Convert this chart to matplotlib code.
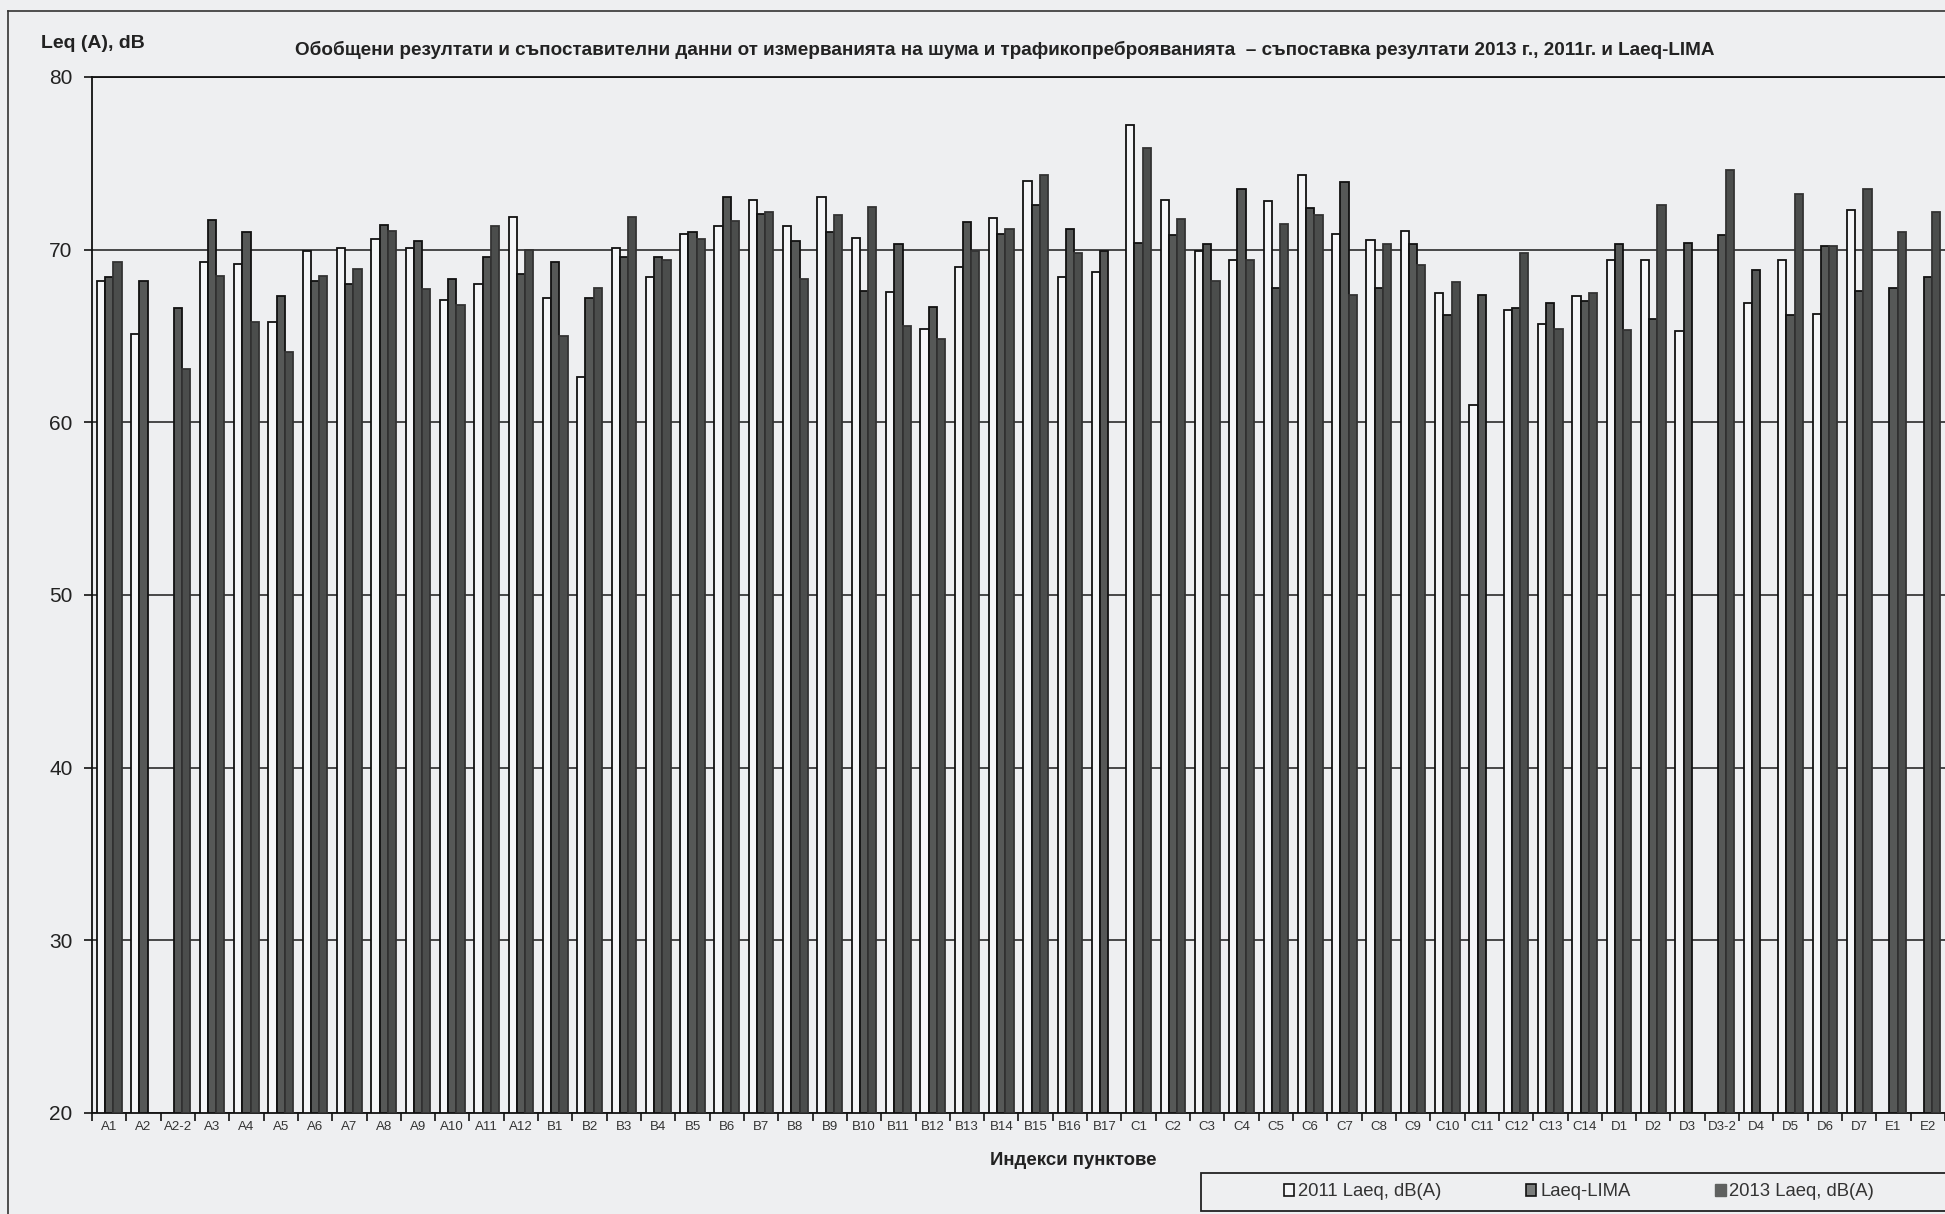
import matplotlib
matplotlib.use("Agg")
import matplotlib.pyplot as plt
import numpy as np
from matplotlib.patches import Patch, Rectangle

plt.rcParams["font.family"] = ["Liberation Sans", "DejaVu Sans"]

BG = "#eeeff1"
WHITE_BAR = "#f5f6f8"
LIMA_COLOR = "#565857"
Y2013_COLOR = "#4b4d4c"

nan = np.nan

categories = [
    "A1", "A2", "A2-2", "A3", "A4", "A5", "A6", "A7", "A8", "A9", "A10", "A11", "A12",
    "B1", "B2", "B3", "B4", "B5", "B6", "B7", "B8", "B9", "B10", "B11", "B12", "B13",
    "B14", "B15", "B16", "B17",
    "C1", "C2", "C3", "C4", "C5", "C6", "C7", "C8", "C9", "C10", "C11", "C12", "C13", "C14",
    "D1", "D2", "D3", "D3-2", "D4", "D5", "D6", "D7",
    "E1", "E2",
]

laeq_2011 = [
    68.2, 65.1, nan, 69.3, 69.15, 65.8, 69.9, 70.1, 70.6, 70.1, 67.1, 68.0, 71.9,
    67.2, 62.6, 70.1, 68.4, 70.9, 71.35, 72.9, 71.35, 73.05, 70.7, 67.55, 65.4, 69.0,
    71.85, 74.0, 68.4, 68.7,
    77.2, 72.9, 69.9, 69.4, 72.8, 74.35, 70.9, 70.55, 71.1, 67.5, 61.0, 66.5, 65.7, 67.3,
    69.4, 69.4, 65.3, nan, 66.9, 69.4, 66.3, 72.3,
    nan, nan,
]

laeq_lima = [
    68.4, 68.2, 66.6, 71.7, 71.0, 67.3, 68.2, 68.0, 71.4, 70.5, 68.3, 69.6, 68.6,
    69.3, 67.2, 69.6, 69.6, 71.0, 73.05, 72.05, 70.5, 71.0, 67.6, 70.3, 66.7, 71.6,
    70.9, 72.6, 71.2, 69.9,
    70.4, 70.85, 70.3, 73.5, 67.8, 72.4, 73.9, 67.8, 70.3, 66.2, 67.4, 66.6, 66.9, 67.0,
    70.3, 66.0, 70.4, 70.85, 68.8, 66.2, 70.2, 67.6,
    67.8, 68.4,
]

laeq_2013 = [
    69.3, nan, 63.1, 68.5, 65.8, 64.1, 68.5, 68.9, 71.1, 67.7, 66.8, 71.35, 70.0,
    65.0, 67.8, 71.9, 69.4, 70.6, 71.66, 72.2, 68.3, 72.0, 72.5, 65.6, 64.8, 69.9,
    71.2, 74.3, 69.8, nan,
    75.9, 71.8, 68.2, 69.4, 71.5, 72.0, 67.35, 70.3, 69.1, 68.15, nan, 69.8, 65.4, 67.5,
    65.35, 72.6, nan, 74.6, nan, 73.25, 70.2, 73.5,
    71.0, 72.2,
]

title = ("Обобщени резултати и съпоставителни данни от измерванията на шума и "
         "трафикопреброяванията  – съпоставка резултати 2013 г., 2011г. и Laeq-LIMA")

W, H = 1945, 1214
fig = plt.figure(figsize=(W / 100, H / 100), dpi=100, facecolor=BG)
ax = fig.add_axes([92 / W, 1 - 1113 / H, 1 - 92 / W, (1113 - 77) / H])
ax.set_facecolor(BG)

x = np.arange(len(categories))
bw = 0.24
bottom = 20
for vals, off, face, edge in [
    (laeq_2011, -bw, WHITE_BAR, "#111111"),
    (laeq_lima, 0.0, LIMA_COLOR, "#111111"),
    (laeq_2013, bw, Y2013_COLOR, "#333333"),
]:
    v = np.array(vals, dtype=float)
    ok = ~np.isnan(v)
    ax.bar(x[ok] + off, v[ok] - bottom, bw, bottom=bottom, color=face,
           edgecolor=edge, linewidth=1.3, zorder=3)

ax.set_ylim(20, 80)
ax.set_xlim(-0.5, (W - 92) / 34.4 - 0.5)
ax.set_yticks(np.arange(20, 81, 10))
ax.yaxis.grid(True, color="#1a1a1a", linewidth=1.1)
ax.set_axisbelow(True)

ax.set_xticks(x)
ax.set_xticklabels(categories, fontsize=9.5, color="#333333")
ax.set_xticks(np.arange(-0.5, len(categories), 1), minor=True)
ax.tick_params(axis="x", which="major", length=0, pad=6)
ax.tick_params(axis="x", which="minor", length=6, width=1.2, color="#111111")
ax.tick_params(axis="y", labelsize=15, length=6, width=1.2, pad=8, colors="#111111")
ax.tick_params(axis="y", labelcolor="#222222")

for side in ["left", "bottom", "top"]:
    ax.spines[side].set_linewidth(1.3)
    ax.spines[side].set_color("#111111")
ax.spines["right"].set_visible(False)

ax.set_xlabel("Индекси пунктове", fontsize=13.4, fontweight="bold", color="#222222")
ax.xaxis.set_label_coords((1073 - 92) / (W - 92), -0.038)

fig.text(41 / W, 1 - 43 / H, "Leq (A), dB", fontsize=14, fontweight="bold",
         color="#222222", va="center", ha="left")
fig.text(1005 / W, 1 - 50 / H, title, fontsize=13.6, fontweight="bold",
         color="#222222", va="center", ha="center")

# outer frame of the scanned chart
fig.add_artist(plt.Line2D([8 / W, 8 / W], [0, 1 - 11 / H], transform=fig.transFigure,
                          color="#333333", linewidth=1.2))
fig.add_artist(plt.Line2D([8 / W, 1], [1 - 11 / H, 1 - 11 / H], transform=fig.transFigure,
                          color="#333333", linewidth=1.2))

# legend box (runs off the right edge like the scan)
fig.add_artist(Rectangle((1201 / W, 1 - 1211 / H), 800 / W, 38 / H,
                         transform=fig.transFigure, facecolor=BG,
                         edgecolor="#222222", linewidth=1.3))
handles = [
    Patch(facecolor=WHITE_BAR, edgecolor="#111111", linewidth=1.2, label="2011 Laeq, dB(A)"),
    Patch(facecolor="#7a7c7b", edgecolor="#111111", linewidth=1.2, label="Laeq-LIMA"),
    Patch(facecolor="#5f6160", edgecolor="#5f6160", linewidth=1.0, label="2013 Laeq, dB(A)"),
]
leg = fig.legend(handles=handles, loc="center left", ncol=3,
                 bbox_to_anchor=(1284 / W, 1 - 1192 / H),
                 frameon=False, fontsize=13.3, columnspacing=4.6,
                 handlelength=0.55, handleheight=0.55, handletextpad=0.2,
                 borderaxespad=0, borderpad=0)
for t in leg.get_texts():
    t.set_color("#333333")

fig.savefig("out.png", dpi=100, facecolor=BG)
